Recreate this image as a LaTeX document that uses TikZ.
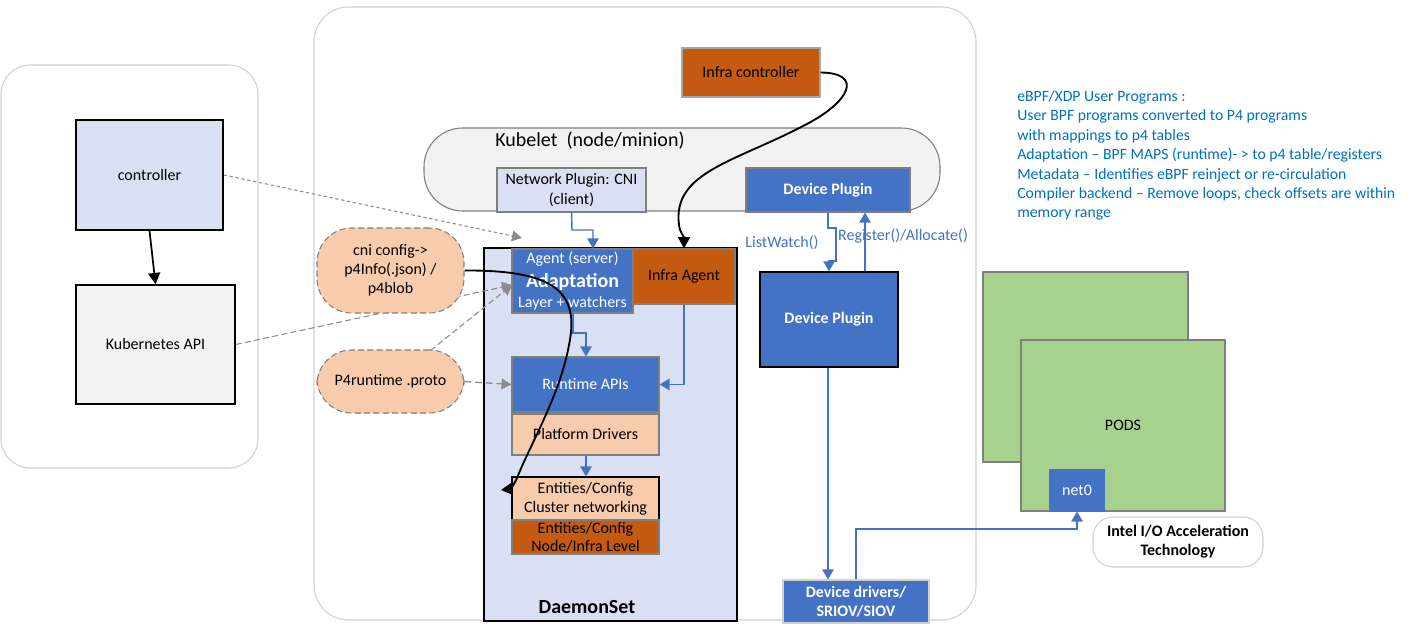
\documentclass[tikz,border=0pt]{standalone}
\usepackage{fontspec}
\setmainfont{Carlito}
\usetikzlibrary{arrows.meta,calc}
\definecolor{accblue}{HTML}{4472C4}
\definecolor{rust}{HTML}{C55A11}
\definecolor{peach}{HTML}{F8CBAD}
\definecolor{paleblue}{HTML}{DAE0F3}
\definecolor{palegray}{HTML}{F2F2F2}
\definecolor{podgreen}{HTML}{A9D18E}
\definecolor{notecol}{HTML}{0070C0}
\definecolor{rimgray}{HTML}{7F7F7F}
\definecolor{paneledge}{HTML}{D0D0D0}
\definecolor{dashgray}{HTML}{8C8C8C}
\pgfdeclarelayer{panels}
\pgfdeclarelayer{links}
\pgfsetlayers{panels,links,main}
\begin{document}
\begin{tikzpicture}[x=0.75pt,y=-0.75pt,
  sz/.style 2 args={minimum width={#1*0.75pt},minimum height={#2*0.75pt}},
  box/.style={draw=rimgray,line width=0.8pt,inner sep=0pt,align=center,
    font=\fontsize{12}{14.4}\selectfont},
  bluebox/.style={box,fill=accblue,text=white},
  panel/.style={draw=paneledge,line width=0.8pt,inner sep=0pt},
  blob/.style={box,fill=peach,dashed,dash pattern=on 4.5pt off 2.5pt,rounded corners=26pt},
  bluelink/.style={draw=accblue,line width=1.1pt,-{Triangle[width=8.5pt,length=7.5pt]}},
  blacklink/.style={line width=1.4pt,-{Triangle[width=9pt,length=8.5pt]}},
  hint/.style={draw=dashgray,line width=0.8pt,-{Triangle[width=8pt,length=7.5pt]}},
  lbl/.style={inner sep=0pt,font=\fontsize{12}{14.4}\selectfont}
]
\useasboundingbox (0,0) rectangle (1413,634);

% outer panels
\begin{pgfonlayer}{panels}
  \node[panel,sz={257}{403},rounded corners=22pt] (master) at (129.5,266.5) {};
  \node[panel,sz={662}{613},rounded corners=26pt] (worker) at (645,313.5) {};
  \node[box,fill=palegray,sz={516}{83},rounded corners=29pt] (kubelet) at (682,169.5) {};
  \node[box,draw=black,line width=1.2pt,fill=paleblue,sz={253}{373}] (daemon) at (610.5,434.5) {};
  \node[box,fill=podgreen,sz={205}{190}] (podsback) at (1085.5,367) {};
\end{pgfonlayer}

% control plane
\node[box,draw=black,line width=1.1pt,fill=paleblue,sz={147}{110}] (ctrl) at (149.5,175) {controller};
\node[box,draw=black,line width=1.1pt,fill=palegray,sz={159}{119}] (k8sapi) at (155.5,344.5) {Kubernetes API};

% worker node
\node[box,draw=paneledge!80!black,fill=rust,sz={138}{49}] (infractl) at (751,72.5) {Infra controller};
\node[lbl,font=\fontsize{15}{17}\selectfont] (kubeletlbl) at (590,141) {Kubelet\ \ (node/minion)};
\node[box,fill=paleblue,sz={149}{44}] (cni) at (571.5,190) {Network Plugin: CNI\\(client)};
\node[bluebox,sz={164}{44},font=\fontsize{12}{14.4}\selectfont\bfseries] (devplugA) at (828,190) {Device Plugin};

\node[blob,sz={147}{85}] (cniconf) at (390.5,270.5) {cni config-\textgreater\\p4Info(.json) /\\p4blob};
\node[blob,sz={147}{63}] (p4rt) at (390.5,381.5) {P4runtime .proto};

\node[bluebox,sz={121}{64}] (agent) at (572.5,281) {};
\node[lbl,text=white] (agentA) at (572.5,259) {Agent (server)};
\node[lbl,text=white,font=\fontsize{15}{16}\selectfont\bfseries] (agentB) at (572.5,282.5) {Adaptation};
\node[lbl,text=white] (agentC) at (572.5,303) {Layer + watchers};
\node[box,fill=rust,sz={102}{55}] (infraagent) at (684,276.5) {Infra Agent};
\node[bluebox,sz={147}{55}] (runtime) at (585.5,384.5) {Runtime APIs};
\node[box,fill=peach,sz={147}{41}] (platform) at (585.5,434.5) {Platform Drivers};
\node[box,draw=black,fill=peach,sz={147}{43}] (entA) at (585.5,498.5) {Entities/Config\\Cluster networking};
\node[box,fill=rust,sz={147}{34},font=\fontsize{12}{13.2}\selectfont] (entB) at (585.5,537) {Entities/Config\\Node/Infra Level};
\node[lbl,font=\fontsize{15}{16}\selectfont\bfseries] (daemonlbl) at (587,607) {DaemonSet};

\node[bluebox,draw=black,line width=1.1pt,sz={138}{95},font=\fontsize{12}{14.4}\selectfont\bfseries] (devplugB) at (829,319.5) {Device Plugin};
\node[bluebox,draw=paneledge,sz={146}{43},font=\fontsize{12}{14.4}\selectfont\bfseries] (devdrv) at (856,601.5) {Device drivers/\\SRIOV/SIOV};

% pods
\node[box,fill=podgreen,sz={204}{171}] (podsfront) at (1123,425.5) {PODS};
\node[bluebox,draw=accblue,sz={54}{41}] (net0) at (1077,490.5) {net0};
\node[box,draw=paneledge,sz={170}{50},rounded corners=15pt,font=\fontsize{12}{14.4}\selectfont\bfseries] (iat) at (1178,542) {Intel I/O Acceleration\\Technology};

% notes
\node[anchor=north west,inner sep=0pt,align=left,text=notecol,
  font=\fontsize{11.8}{14.6}\selectfont] (notes) at (1017,90) {%
eBPF/XDP User Programs :\\
User BPF programs converted to P4 programs\\
with mappings to p4 tables\\
Adaptation – BPF MAPS (runtime)- \textgreater{} to p4 table/registers\\
Metadata – Identifies eBPF reinject or re-circulation\\
Compiler backend – Remove loops, check offsets are within\\
memory range};

% dashed hints, behind the boxes
\begin{pgfonlayer}{links}
  \coordinate (ctrltip) at (522,238);
  \coordinate (adaptip) at (512,285);
  \draw[hint,dash pattern=on 2.5pt off 2pt] (ctrl.east) -- (ctrltip);
  \draw[hint,dash pattern=on 4.5pt off 2.5pt] (k8sapi.east) -- (adaptip);
  \draw[hint,dash pattern=on 4.5pt off 2.5pt] ($(p4rt.north)+(40,1)$) -- (adaptip);
  \draw[hint,line width=1pt,dash pattern=on 5pt off 3pt] (p4rt.east) -- (runtime.west);
\end{pgfonlayer}

% control plane link
\draw[blacklink,line width=1.3pt] (ctrl.south) -- (k8sapi.south |- k8sapi.north);

% black curves
\coordinate (enttip) at (501,490);
\draw[blacklink] (cniconf.east) .. controls (555,270) and (580,292) .. (569,345)
  .. controls (560,395) and (530,445) .. (517,478)
  .. controls (514,485) and (510,489) .. (enttip);
\draw[blacklink] (infractl.east) .. controls (864,73) and (850,102) .. (805,125)
  .. controls (735,162) and (672,172) .. (679,225)
  .. controls (680,233) and (684,236) .. (infraagent.north);

% blue links inside the node
\draw[bluelink] (cni.south) -- (572,230) -- (593,230) -- (593,0 |- agent.north);
\draw[bluelink] (573,0 |- agent.south) -- (573,333) -- (586,333) -- (586,0 |- runtime.north);
\draw[bluelink] (infraagent.south) |- (runtime.east);
\draw[bluelink] (586,0 |- platform.south) -- (586,0 |- entA.north);
\draw[bluelink] (devplugA.south) -- (828,228) -- (836,228) -- (836,261) -- (829,261) -- (829,0 |- devplugB.north);
\draw[bluelink] (865,0 |- devplugB.north) -- (865,0 |- devplugA.south);
\draw[bluelink] (828,0 |- devplugB.south) -- (828,0 |- devdrv.north);
\draw[bluelink] (856,0 |- devdrv.north) -- (856,529) -| (net0.south);

\node[lbl,text=accblue] (lwlbl) at (782,243) {ListWatch()};
\node[lbl,text=accblue] (reglbl) at (903,236) {Register()/Allocate()};
\end{tikzpicture}
\end{document}
